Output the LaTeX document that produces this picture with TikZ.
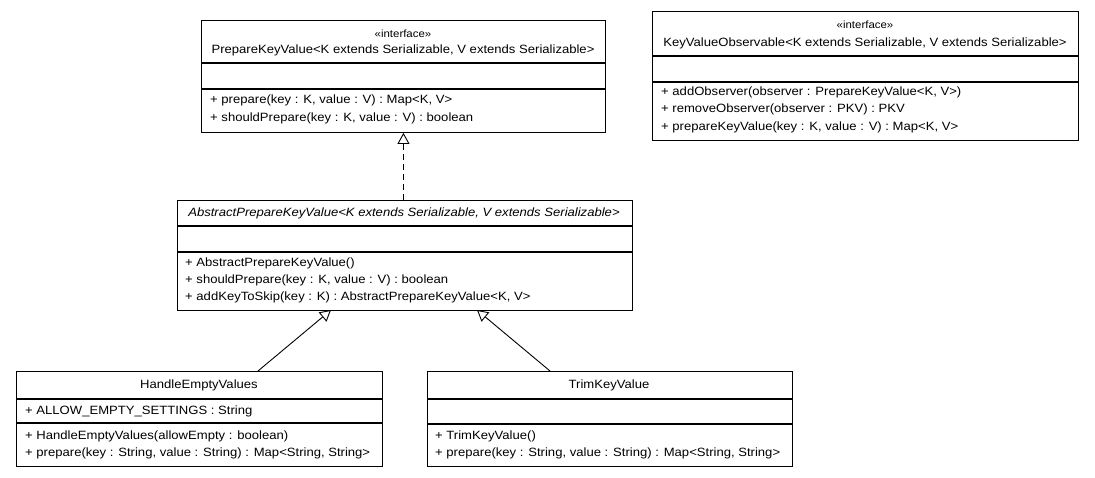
\documentclass[tikz,border=0pt]{standalone}
\usepackage{fontspec}
\setmainfont{Liberation Sans}[FakeStretch=1.09]
\usetikzlibrary{arrows.meta}

\newcommand{\umlfont}{\fontsize{12}{14}\selectfont}
\newcommand{\stfont}{\fontsize{10.5}{12}\selectfont}

\begin{document}
\begin{tikzpicture}[x=1pt,y=-1pt,
		cls/.style={draw,line width=0.9pt,inner sep=0pt,anchor=north west},
		sep/.style={line width=1.3pt},
		mem/.style={anchor=west,inner sep=0pt,font=\umlfont},
		ttl/.style={inner sep=0pt,font=\umlfont},
		stereo/.style={inner sep=0pt,font=\stfont},
		inherit/.style={line width=0.9pt,-{Triangle[open,length=11pt,width=12pt,line width=0.9pt]}},
		realize/.style={inherit,dash pattern=on 6pt off 4pt}]
	\path[use as bounding box,fill=white] (0,0) rectangle (1095,477);
	
	%PREPAREKEYVALUE
	\node[cls,minimum width=404pt,minimum height=112pt] (pkv) at (201,20) {};
	\draw[sep] (pkv.west |- 0,63) -- (pkv.east |- 0,63);
	\draw[sep] (pkv.west |- 0,89) -- (pkv.east |- 0,89);
	\node[stereo] (pkv-st) at (403,34) {«interface»};
	\node[ttl] (pkv-name) at (403,50) {PrepareKeyValue<K extends Serializable, V extends Serializable>};
	\node[mem] (pkv-m1) at (210,100) {+ prepare(key : K, value : V) : Map<K, V>};
	\node[mem] (pkv-m2) at (210,118) {+ shouldPrepare(key : K, value : V) : boolean};
	
	%KEYVALUEOBSERVABLE
	\node[cls,minimum width=426pt,minimum height=129pt] (kvo) at (652,11) {};
	\draw[sep] (kvo.west |- 0,56) -- (kvo.east |- 0,56);
	\draw[sep] (kvo.west |- 0,82) -- (kvo.east |- 0,82);
	\node[stereo] (kvo-st) at (865,25) {«interface»};
	\node[ttl] (kvo-name) at (865,43) {KeyValueObservable<K extends Serializable, V extends Serializable>};
	\node[mem] (kvo-m1) at (661,92) {+ addObserver(observer : PrepareKeyValue<K, V>)};
	\node[mem] (kvo-m2) at (661,109) {+ removeObserver(observer : PKV) : PKV};
	\node[mem] (kvo-m3) at (661,127) {+ prepareKeyValue(key : K, value : V) : Map<K, V>};
	
	%ABSTRACTPREPAREKEYVALUE
	\node[cls,minimum width=455pt,minimum height=110pt] (abs) at (177,200) {};
	\draw[sep] (abs.west |- 0,226) -- (abs.east |- 0,226);
	\draw[sep] (abs.west |- 0,252) -- (abs.east |- 0,252);
	\node[ttl,font=\umlfont\itshape] (abs-name) at (404,213) {AbstractPrepareKeyValue<K extends Serializable, V extends Serializable>};
	\node[mem] (abs-m1) at (185,263) {+ AbstractPrepareKeyValue()};
	\node[mem] (abs-m2) at (185,280) {+ shouldPrepare(key : K, value : V) : boolean};
	\node[mem] (abs-m3) at (185,297) {+ addKeyToSkip(key : K) : AbstractPrepareKeyValue<K, V>};
	
	%HANDLEEMPTYVALUES
	\node[cls,minimum width=366pt,minimum height=95pt] (hev) at (16,371) {};
	\draw[sep] (hev.west |- 0,399) -- (hev.east |- 0,399);
	\draw[sep] (hev.west |- 0,423) -- (hev.east |- 0,423);
	\node[ttl] (hev-name) at (199,385) {HandleEmptyValues};
	\node[mem] (hev-a1) at (25,411) {+ ALLOW\_EMPTY\_SETTINGS : String};
	\node[mem] (hev-m1) at (25,436) {+ HandleEmptyValues(allowEmpty : boolean)};
	\node[mem] (hev-m2) at (25,453) {+ prepare(key : String, value : String) : Map<String, String>};
	
	%TRIMKEYVALUE
	\node[cls,minimum width=365pt,minimum height=95pt] (tkv) at (427,371) {};
	\draw[sep] (tkv.west |- 0,399) -- (tkv.east |- 0,399);
	\draw[sep] (tkv.west |- 0,424) -- (tkv.east |- 0,424);
	\node[ttl] (tkv-name) at (609,385) {TrimKeyValue};
	\node[mem] (tkv-m1) at (435,436) {+ TrimKeyValue()};
	\node[mem] (tkv-m2) at (435,453) {+ prepare(key : String, value : String) : Map<String, String>};
	
	%RELATIONS
	\coordinate (abs-l) at (331,310);
	\coordinate (abs-r) at (477,310);
	\coordinate (hev-t) at (258,371);
	\coordinate (tkv-t) at (550,371);
	\draw[realize] (abs.north -| pkv.south) -- (pkv.south);
	\draw[inherit] (hev-t) -- (abs-l);
	\draw[inherit] (tkv-t) -- (abs-r);
\end{tikzpicture}
\end{document}
